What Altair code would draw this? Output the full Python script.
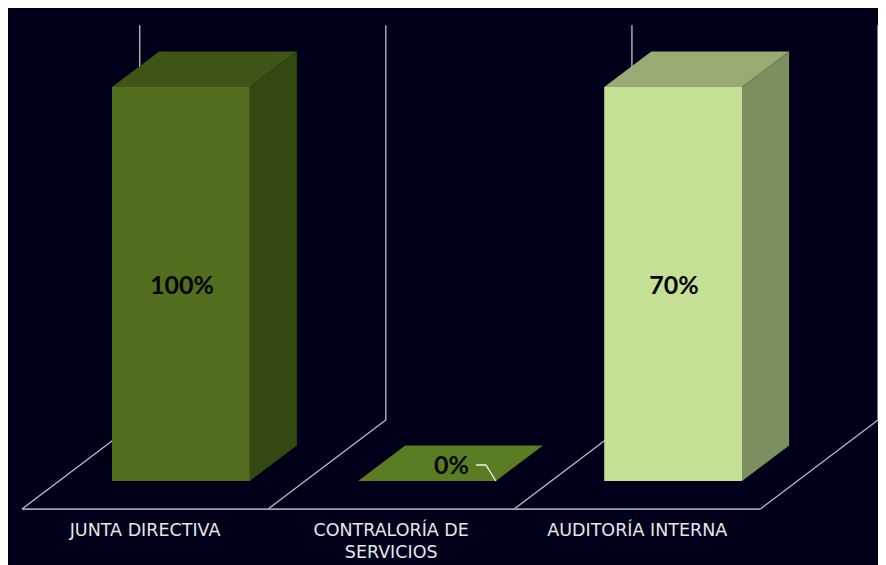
import altair as alt
import pandas as pd

# ---- chart values ----
categories = ["JUNTA DIRECTIVA", "CONTRALORÍA DE\nSERVICIOS", "AUDITORÍA INTERNA"]
value_labels = ["100%", "0%", "70%"]
drawn_heights = [1.0, 0.0, 1.0]

# ---- styles ----
BG = "#00001a"
front_colors = ["#516d1e", "#5a7d24", "#c3e094"]
top_colors = ["#3f5417", "#5a7d24", "#97ab72"]
side_colors = ["#344812", "#5a7d24", "#7c8f5e"]
GRID = "#c0c0ca"
AXIS = "#a0a0ae"
FONT = "Lato"
CAT_FONT = "DejaVu Sans"

# ---- oblique projection, in data units (x: categories, y: value) ----
W, H = 870, 557
PX_PER_CAT = 246.1
PX_PER_VAL = 394.0
X_ZERO = 14.0
Y_ZERO = 473.0
DEPTH_X = 118 / 246.67
DEPTH_Y = 89 / PX_PER_VAL
GAP = 0.215
BAR_W = 0.56
D_FRONT = 0.315
D_BACK = 0.715
WALL_TOP = 1.157

xs = alt.Scale(domain=[-X_ZERO / PX_PER_CAT, (W - X_ZERO) / PX_PER_CAT], range=[0, W], nice=False, zero=False)
ys = alt.Scale(domain=[(Y_ZERO - H) / PX_PER_VAL, Y_ZERO / PX_PER_VAL], range=[H, 0], nice=False, zero=False)


def proj(cat, depth, val):
    return cat + depth * DEPTH_X, val + (depth - D_FRONT) * DEPTH_Y


def area(rows, color):
    df = pd.DataFrame(rows, columns=["x", "y", "y2"])
    return alt.Chart(df).mark_area(color=color, opacity=1, interpolate="linear", orient="vertical").encode(
        x=alt.X("x:Q", scale=xs, axis=None),
        y=alt.Y("y:Q", scale=ys, axis=None, stack=None),
        y2=alt.Y2("y2:Q"),
    )


def polyline(points, color, width):
    df = pd.DataFrame(points, columns=["x", "y"])
    df["k"] = range(len(df))
    return alt.Chart(df).mark_line(color=color, strokeWidth=width, interpolate="linear").encode(
        x=alt.X("x:Q", scale=xs, axis=None),
        y=alt.Y("y:Q", scale=ys, axis=None),
        order=alt.Order("k:Q"),
    )


layers = []
floor = -D_FRONT * DEPTH_Y
n = len(categories)

# floor and wall lines
for i in range(n + 1):
    front = (float(i), floor)
    back = (i + DEPTH_X, floor + DEPTH_Y)
    wall = (i + DEPTH_X, WALL_TOP)
    layers.append(polyline([front, back, wall], GRID, 1.3))
layers.append(polyline([(0.0, floor), (float(n), floor)], AXIS, 1.8))

# bars
for i, v in enumerate(drawn_heights):
    left = i + GAP
    right = left + BAR_W
    fl_x, fl_y = proj(left, D_FRONT, v)
    bl_x, bl_y = proj(left, D_BACK, v)
    fr_x, fr_y = proj(right, D_FRONT, v)
    br_x, br_y = proj(right, D_BACK, v)
    base_front = proj(right, D_FRONT, 0)[1]
    base_back = proj(right, D_BACK, 0)[1]
    layers.append(area([(fl_x, fl_y, fl_y), (bl_x, bl_y, fl_y), (fr_x, br_y, fr_y), (br_x, br_y, br_y)], top_colors[i]))
    if v > 0:
        layers.append(area([(fr_x, fr_y, base_front), (br_x, br_y, base_back)], side_colors[i]))
        layers.append(area([(fl_x, fl_y, base_front), (fr_x, fr_y, base_front)], front_colors[i]))

# leader line of the zero label
lead_end = proj(1 + GAP + BAR_W, D_FRONT, 0)
layers.append(polyline([
    (lead_end[0] - 20 / PX_PER_CAT, lead_end[1] + 16 / PX_PER_VAL),
    (lead_end[0] - 10 / PX_PER_CAT, lead_end[1] + 16 / PX_PER_VAL),
    lead_end,
], "#f0f0f0", 1.3))

# value labels
lab = pd.DataFrame({
    "x": [i + GAP + BAR_W / 2 + D_FRONT * DEPTH_X + (0.004 if v > 0 else 0.1) for i, v in enumerate(drawn_heights)],
    "y": [v / 2 - 1.5 / PX_PER_VAL + (0 if v > 0 else 17 / PX_PER_VAL) for v in drawn_heights],
    "t": value_labels,
})
layers.append(alt.Chart(lab).mark_text(font=FONT, fontSize=25, fontWeight=700, color="#050505", align="center", baseline="middle").encode(
    x=alt.X("x:Q", scale=xs, axis=None), y=alt.Y("y:Q", scale=ys, axis=None), text="t:N"))

# category labels
cat = pd.DataFrame({"x": [i + 0.5 for i in range(n)], "y": [floor - 12.5 / PX_PER_VAL] * n, "t": categories})
layers.append(alt.Chart(cat).mark_text(font=CAT_FONT, fontSize=17.5, color="#e6e6ea", align="center", baseline="top", lineBreak="\n", lineHeight=22).encode(
    x=alt.X("x:Q", scale=xs, axis=None), y=alt.Y("y:Q", scale=ys, axis=None), text="t:N"))

chart = alt.layer(*layers).properties(
    width=W, height=H, padding=0, autosize="none", background=BG
).configure_view(stroke=None)

chart.save("out.html", embed_options={"renderer": "svg", "actions": False})
